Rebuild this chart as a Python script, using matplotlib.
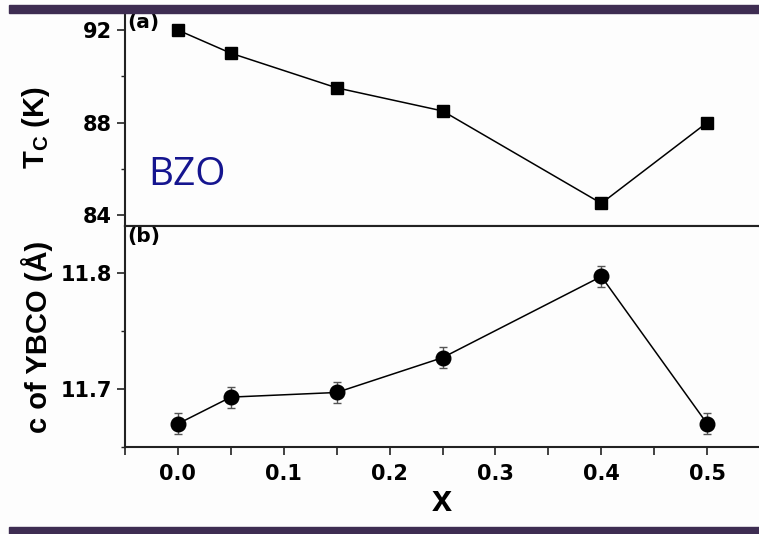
import matplotlib
matplotlib.use("Agg")
import matplotlib.pyplot as plt
from matplotlib.patches import Rectangle
from matplotlib.ticker import MultipleLocator

# data
x_vals = [0.0, 0.05, 0.15, 0.25, 0.40, 0.50]
tc_vals = [92.0, 91.0, 89.5, 88.5, 84.5, 88.0]
c_vals = [11.670, 11.693, 11.697, 11.727, 11.797, 11.670]
c_err = [0.009, 0.009, 0.009, 0.009, 0.009, 0.009]

plt.rcParams["font.family"] = ["Liberation Sans", "DejaVu Sans"]
plt.rcParams["font.weight"] = "bold"

fig = plt.figure(figsize=(7.59, 5.34), dpi=100, facecolor="#fdfdfd")

left, right = 125 / 759, 758 / 759
top_a, bot_a = 1 - 13 / 534, 1 - 226 / 534
bot_b = 1 - 447 / 534

ax1 = fig.add_axes([left, bot_a, right - left, top_a - bot_a])
ax2 = fig.add_axes([left, bot_b, right - left, bot_a - bot_b], sharex=ax1)

tick_font = {"family": "DejaVu Sans", "weight": "bold", "size": 15}

for ax in (ax1, ax2):
    ax.set_facecolor("#fdfdfd")
    ax.spines["right"].set_visible(False)
    for s in ax.spines.values():
        s.set_linewidth(1.5)
        s.set_color("#222222")
    ax.tick_params(which="major", direction="out", length=6, width=1.2,
                   colors="#222222", labelcolor="black")
    ax.tick_params(axis="y", which="minor", direction="out", length=3, width=1.0,
                   colors="#222222")
    ax.tick_params(axis="x", which="minor", direction="out", length=6, width=1.2,
                   colors="#222222")
    ax.tick_params(axis="x", which="both", top=False)
ax1.spines["top"].set_visible(False)

# panel (a): Tc
ax1.plot(x_vals, tc_vals, color="black", lw=1.1, marker="s", markersize=8.5)
ax1.set_ylim(83.52, 92.74)
ax1.yaxis.set_major_locator(MultipleLocator(4))
ax1.yaxis.set_minor_locator(MultipleLocator(2))
ax1.tick_params(axis="x", labelbottom=False)
ax1.set_ylabel(r"T$_\mathregular{C}$ (K)", fontsize=21, fontweight="bold")
ax1.text(0.004, 1.0, "(a)", transform=ax1.transAxes, fontsize=14.5,
         fontweight="bold", family="DejaVu Sans", va="top", ha="left")
ax1.text(0.036, 0.15, "BZO", transform=ax1.transAxes, fontsize=28,
         fontweight="normal", color="#15158f", family="Open Sans", va="bottom")

# panel (b): c lattice parameter
ax2.errorbar(x_vals, c_vals, yerr=c_err, color="black", lw=1.1, marker="o",
             markersize=10.5, ecolor="#555555", elinewidth=1.0, capsize=3,
             capthick=1.0)
ax2.set_ylim(11.65, 11.8405)
ax2.yaxis.set_major_locator(MultipleLocator(0.1))
ax2.yaxis.set_minor_locator(MultipleLocator(0.05))
ax2.yaxis.set_major_formatter(plt.FormatStrFormatter("%.1f"))
ax2.set_xlim(-0.05, 0.548)
ax2.xaxis.set_major_locator(MultipleLocator(0.1))
ax2.xaxis.set_minor_locator(MultipleLocator(0.05))
ax2.xaxis.set_major_formatter(plt.FormatStrFormatter("%.1f"))
ax2.tick_params(axis="x", which="major", pad=6)
ax2.set_ylabel("c of YBCO (Å)", fontsize=21, fontweight="bold")
ax2.set_xlabel("x", fontsize=26, fontweight="bold", labelpad=0)
ax2.text(0.004, 0.995, "(b)", transform=ax2.transAxes, fontsize=14.5,
         fontweight="bold", family="DejaVu Sans", va="top", ha="left")

for ax in (ax1, ax2):
    for lab in ax.get_xticklabels() + ax.get_yticklabels():
        lab.set_fontproperties(tick_font)

ax1.yaxis.set_label_coords(-0.115, 0.46)
ax2.yaxis.set_label_coords(-0.114, 0.5)

# slide decoration bars
bar_color = "#3e2d52"
fig.patches.append(Rectangle((9 / 759, 1 - 13 / 534), 1, 8 / 534,
                             transform=fig.transFigure, color=bar_color, zorder=10))
fig.patches.append(Rectangle((9 / 759, 0), 1, 7 / 534,
                             transform=fig.transFigure, color=bar_color, zorder=10))

fig.savefig("out.png", dpi=100, facecolor=fig.get_facecolor())
